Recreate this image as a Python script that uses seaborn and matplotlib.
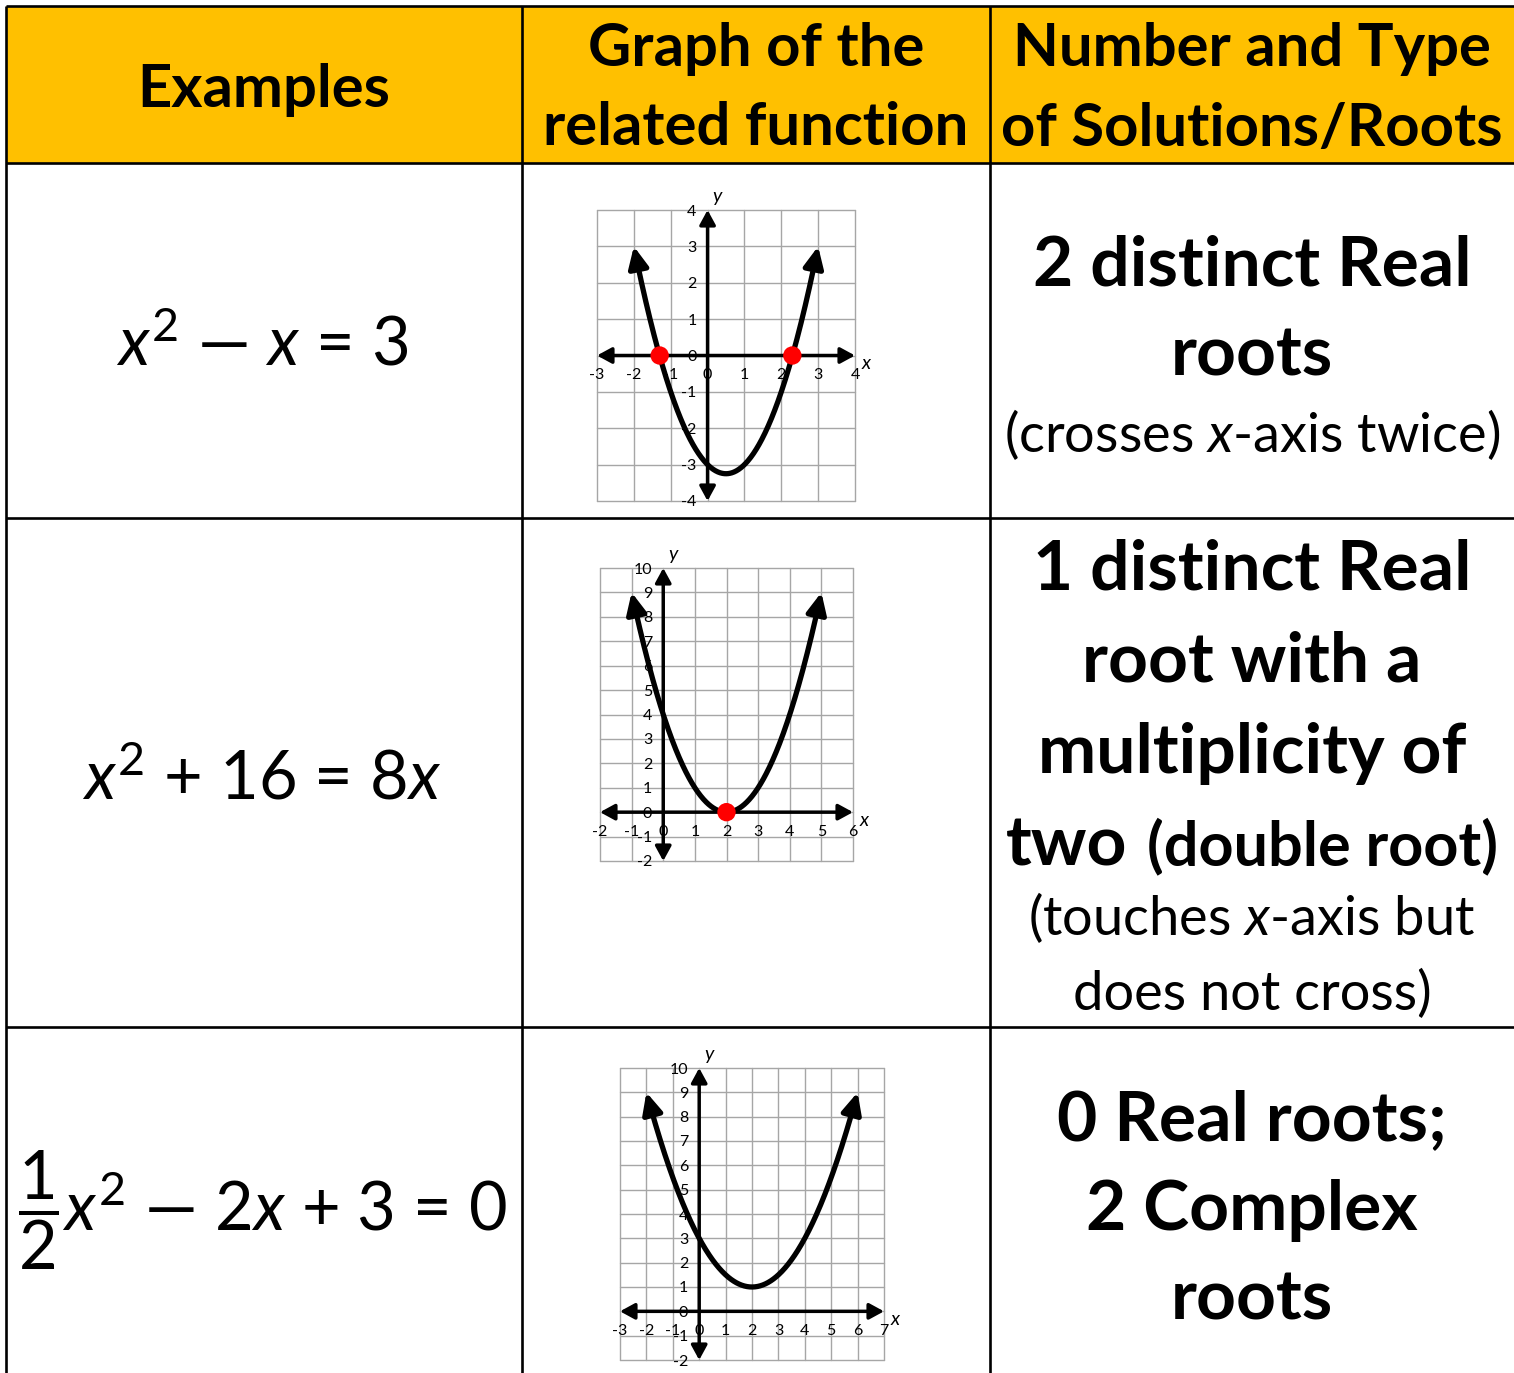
import numpy as np
import matplotlib
matplotlib.use("Agg")
import matplotlib.pyplot as plt
import seaborn as sns
from matplotlib.patches import Rectangle

# ------------------------------------------------------------------ data
header_col1 = ["Examples"]
header_col2 = ["Graph of the", "related function"]
header_col3 = ["Number and Type", "of Solutions/Roots"]

equations = [r"$x^2$ — $x$ = 3", r"$x^2$ + 16 = 8$x$", r"$\dfrac{1}{2}x^2$ — 2$x$ + 3 = 0"]

# related function y = a x^2 + b x + c
coef_a = [1.0, 1.0, 0.5]
coef_b = [-1.0, -4.0, -2.0]
coef_c = [-3.0, 4.0, 3.0]
curve_x_start = [-2.0, -1.0, -2.0]
curve_x_end = [3.0, 5.0, 6.0]

root_x = [[-1.30, 2.30], [2.0], []]
root_y = [[0.0, 0.0], [0.0], []]

x_limits = [(-3, 4), (-2, 6), (-3, 7)]
y_limits = [(-4, 4), (-2, 10), (-2, 10)]

row1_desc = ["2 distinct Real", "roots", "(crosses $x$-axis twice)"]
row1_bold = [True, True, False]
row2_desc = ["1 distinct Real", "root with a", "multiplicity of", ("two", "(double root)"),
             "(touches $x$-axis but", "does not cross)"]
row2_bold = [True, True, True, True, False, False]
row3_desc = ["0 Real roots;", "2 Complex", "roots"]
row3_bold = [True, True, True]

# ------------------------------------------------------------------ layout / style
W, H = 1514, 1373
sns.set_style("white")
plt.rcParams["font.family"] = ["Lato", "DejaVu Sans"]
plt.rcParams["text.color"] = "black"
plt.rcParams["xtick.color"] = "black"
plt.rcParams["ytick.color"] = "black"
plt.rcParams["axes.unicode_minus"] = False
plt.rcParams["mathtext.fontset"] = "custom"
plt.rcParams["mathtext.rm"] = "Lato"
plt.rcParams["mathtext.it"] = "Lato:italic"
plt.rcParams["mathtext.bf"] = "Lato:bold"

HEADER_FILL = "#FFC000"
GRID_COL = "#A6A6A6"

fig = plt.figure(figsize=(W / 100, H / 100), dpi=100)
fig.patch.set_facecolor("white")

tab = fig.add_axes([0, 0, 1, 1])
tab.set_xlim(0, W)
tab.set_ylim(H, 0)
tab.axis("off")
renderer = fig.canvas.get_renderer()

# header fill
tab.add_patch(Rectangle((6, 6), W - 6, 157, facecolor=HEADER_FILL, edgecolor="none", zorder=0))
lw_tab = 1.9
for y in [6, 163, 518, 1027]:
    tab.plot([6, W], [y, y], color="black", lw=lw_tab, solid_capstyle="butt", zorder=3)
for x in [6, 522, 990]:
    tab.plot([x, x], [6, H], color="black", lw=lw_tab, solid_capstyle="butt", zorder=3)

c1, c2, c3 = 264, 756, 1252
HEAD_FS = 43
tab.text(c1, 107, header_col1[0], ha="center", va="baseline", fontsize=HEAD_FS, fontweight="bold")
for s, yb in zip(header_col2, [66, 145]):
    tab.text(c2, yb, s, ha="center", va="baseline", fontsize=HEAD_FS, fontweight="bold")
for s, yb in zip(header_col3, [66, 146]):
    tab.text(c3, yb, s, ha="center", va="baseline", fontsize=HEAD_FS, fontweight="bold")

EQ_FS = 48
for s, yb in zip(equations, [366, 800, 1231]):
    tab.text(c1 - 2, yb, s, ha="center", va="baseline", fontsize=EQ_FS)

BOLD_FS = 50
BOLD_SMALL_FS = 44
REG_FS = 39


def desc(lines, bolds, baselines):
    for s, b, yb in zip(lines, bolds, baselines):
        if isinstance(s, tuple):
            t1 = tab.text(0, yb, s[0], ha="left", va="baseline", fontsize=BOLD_FS, fontweight="bold")
            t2 = tab.text(0, yb, s[1], ha="left", va="baseline", fontsize=BOLD_SMALL_FS,
                          fontweight="bold")
            w1 = t1.get_window_extent(renderer).width
            w2 = t2.get_window_extent(renderer).width
            gap = 20
            start = c3 - (w1 + gap + w2) / 2
            t1.set_x(start)
            t2.set_x(start + w1 + gap)
            continue
        tab.text(c3, yb, s, ha="center", va="baseline",
                 fontsize=BOLD_FS if b else REG_FS,
                 fontweight="bold" if b else "normal")


desc(row1_desc, row1_bold, [286, 376, 452])
desc(row2_desc, row2_bold, [590, 682, 773, 865, 935, 1010])
desc(row3_desc, row3_bold, [1140, 1230, 1320])

# graph boxes in pixel coordinates (left, top, right, bottom)
boxes = [(597, 210, 855, 501), (600, 568, 853, 861), (620, 1068, 884, 1360)]


def px_axes(l, t, r, b):
    return fig.add_axes([l / W, 1 - b / H, (r - l) / W, (b - t) / H])


for i in range(3):
    ax = px_axes(*boxes[i])
    ax.set_facecolor("none")
    x0, x1 = x_limits[i]
    y0, y1 = y_limits[i]
    ax.set_xlim(x0, x1)
    ax.set_ylim(y0, y1)
    ax.set_xticks(range(x0, x1 + 1))
    ax.set_yticks(range(y0, y1 + 1))
    ax.spines["left"].set_position(("data", 0))
    ax.spines["bottom"].set_position(("data", 0))
    for sp in ax.spines.values():
        sp.set_visible(False)
    ax.grid(True, color=GRID_COL, lw=1.0)
    ax.set_axisbelow(True)
    for gl in ax.get_xgridlines() + ax.get_ygridlines():
        gl.set_clip_on(False)
    ax.tick_params(axis="both", direction="out", length=4, width=1.2, color="black",
                   labelsize=11.5, labelcolor="black")
    ax.tick_params(axis="x", pad=5)
    ax.tick_params(axis="y", pad=4)

    # axes with arrowheads
    ap = dict(arrowstyle="<|-|>,head_length=0.55,head_width=0.3", mutation_scale=16,
              lw=2.5, color="black", shrinkA=0, shrinkB=0)
    ax.annotate("", xy=(x1, 0), xytext=(x0, 0), arrowprops=ap, annotation_clip=False, zorder=3)
    ax.annotate("", xy=(0, y1), xytext=(0, y0), arrowprops=ap, annotation_clip=False, zorder=3)
    ax.annotate("x", xy=(x1, 0), xytext=(8, -6), textcoords="offset points",
                ha="center", va="center", fontsize=14, style="italic", annotation_clip=False)
    ax.annotate("y", xy=(0, y1), xytext=(7, 10), textcoords="offset points",
                ha="center", va="center", fontsize=14, style="italic", annotation_clip=False)

    # curve
    xs = np.linspace(curve_x_start[i], curve_x_end[i], 400)
    ys = coef_a[i] * xs ** 2 + coef_b[i] * xs + coef_c[i]
    disp = ax.transData.transform(np.column_stack([xs, ys]))
    seg = np.r_[0, np.cumsum(np.hypot(*np.diff(disp, axis=0).T))]
    total = seg[-1]
    cut = 14.0
    keep = (seg >= cut) & (seg <= total - cut)
    sns.lineplot(x=xs[keep], y=ys[keep], ax=ax, color="black", lw=3.8, sort=False,
                 estimator=None, zorder=4)
    k0 = np.argmax(keep)
    k1 = len(keep) - 1 - np.argmax(keep[::-1])
    cap = dict(arrowstyle="-|>,head_length=0.7,head_width=0.33", mutation_scale=18,
               lw=3.8, color="black", shrinkA=0, shrinkB=0)
    ax.annotate("", xy=(xs[0], ys[0]), xytext=(xs[k0], ys[k0]), arrowprops=cap,
                annotation_clip=False, zorder=4)
    ax.annotate("", xy=(xs[-1], ys[-1]), xytext=(xs[k1], ys[k1]), arrowprops=cap,
                annotation_clip=False, zorder=4)

    if root_x[i]:
        sns.scatterplot(x=root_x[i], y=root_y[i], ax=ax, s=175, color="#FF0000",
                        edgecolor="none", zorder=6, clip_on=False)

fig.savefig("out.png", dpi=100)
